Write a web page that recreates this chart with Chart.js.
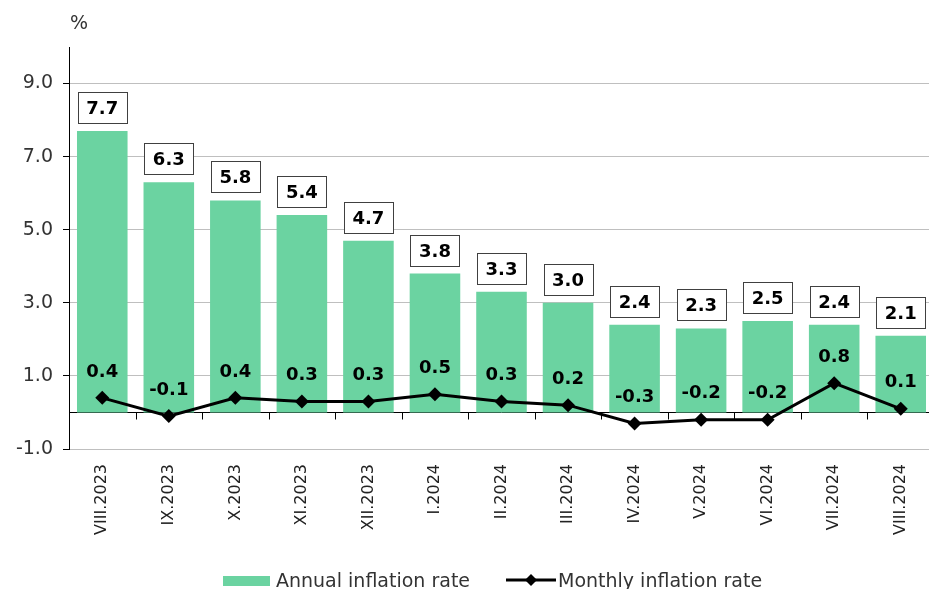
<!DOCTYPE html>
<html>
<head>
<meta charset="utf-8">
<script src="https://cdn.jsdelivr.net/npm/chart.js@4"></script>
<style>
  html, body { margin: 0; padding: 0; background: #fff; overflow: hidden; }
  #wrap { width: 941px; height: 589px; }
</style>
</head>
<body>
<div id="wrap"><canvas id="chart"></canvas></div>
<script>
// ── Data ─────────────────────────────────────────────────
const categories = [
  "VIII.2023", "IX.2023", "X.2023", "XI.2023", "XII.2023", "I.2024", "II.2024",
  "III.2024", "IV.2024", "V.2024", "VI.2024", "VII.2024", "VIII.2024",
];
const annualRate = [7.7, 6.3, 5.8, 5.4, 4.7, 3.8, 3.3, 3.0, 2.4, 2.3, 2.5, 2.4, 2.1];
const monthlyRate = [0.4, -0.1, 0.4, 0.3, 0.3, 0.5, 0.3, 0.2, -0.3, -0.2, -0.2, 0.8, 0.1];
const yTicks = [-1, 1, 3, 5, 7, 9];
const seriesNames = ["Annual inflation rate", "Monthly inflation rate"];

// ── Style ────────────────────────────────────────────────
const BAR_COLOR = "#6bd3a1";
const SANS = "'DejaVu Sans', Verdana, sans-serif";

// ── Plugins ──────────────────────────────────────────────
const extras = {
  id: "extras",
  beforeDatasetsDraw(chart) {
    const { ctx, chartArea, scales } = chart;
    const y0 = Math.round(scales.y.getPixelForValue(0)) + 0.5;
    ctx.save();
    ctx.strokeStyle = "#000";
    ctx.lineWidth = 1;
    ctx.beginPath();
    ctx.moveTo(chartArea.left, y0);
    ctx.lineTo(chartArea.right, y0);
    // category boundary ticks below the zero line
    const w = (chartArea.right - chartArea.left) / categories.length;
    for (let i = 1; i <= categories.length; i++) {
      const x = Math.round(chartArea.left + w * i) + 0.5;
      ctx.moveTo(x, y0);
      ctx.lineTo(x, y0 + 7);
    }
    ctx.stroke();
    ctx.restore();
  },
  afterDatasetsDraw(chart) {
    const { ctx } = chart;
    ctx.save();
    ctx.font = `bold 18px ${SANS}`;
    ctx.textAlign = "center";
    ctx.textBaseline = "middle";

    // boxed labels on the bars
    chart.getDatasetMeta(0).data.forEach((bar, i) => {
      const txt = annualRate[i].toFixed(1);
      const bw = Math.round(ctx.measureText(txt).width) + 17;
      const bh = 31;
      const x = Math.round(bar.x - bw / 2) + 0.5;
      const y = Math.round(bar.y - 8 - bh) + 0.5;
      ctx.fillStyle = "#fff";
      ctx.fillRect(x, y, bw, bh);
      ctx.strokeStyle = "#404040";
      ctx.lineWidth = 1;
      ctx.strokeRect(x, y, bw, bh);
      ctx.fillStyle = "#000";
      ctx.fillText(txt, bar.x, y + bh / 2 + 1);
    });

    // plain labels above the line points
    chart.getDatasetMeta(1).data.forEach((pt, i) => {
      ctx.fillStyle = "#000";
      ctx.fillText(monthlyRate[i].toFixed(1), pt.x, pt.y - 26);
    });

    // axis unit
    ctx.font = `19px ${SANS}`;
    ctx.textAlign = "left";
    ctx.textBaseline = "alphabetic";
    ctx.fillStyle = "#333";
    ctx.fillText("%", 70, 29);

    // legend
    const ly = 580;
    ctx.fillStyle = BAR_COLOR;
    ctx.fillRect(223, ly - 4, 47, 10);
    ctx.fillStyle = "#333";
    ctx.fillText(seriesNames[0], 276, 587);

    ctx.strokeStyle = "#000";
    ctx.lineWidth = 3;
    ctx.beginPath();
    ctx.moveTo(506, ly);
    ctx.lineTo(556, ly);
    ctx.stroke();
    ctx.fillStyle = "#000";
    ctx.beginPath();
    ctx.moveTo(531, ly - 6);
    ctx.lineTo(537, ly);
    ctx.lineTo(531, ly + 6);
    ctx.lineTo(525, ly);
    ctx.closePath();
    ctx.fill();
    ctx.fillStyle = "#333";
    ctx.fillText(seriesNames[1], 558, 587);
    ctx.restore();
  },
};

// ── Chart ────────────────────────────────────────────────
new Chart(document.getElementById("chart"), {
  type: "bar",
  data: {
    labels: categories,
    datasets: [
      {
        label: seriesNames[0],
        data: annualRate,
        backgroundColor: BAR_COLOR,
        barPercentage: 0.76,
        categoryPercentage: 1,
        order: 2,
      },
      {
        type: "line",
        label: seriesNames[1],
        data: monthlyRate,
        borderColor: "#000",
        borderWidth: 3,
        pointStyle: "rectRot",
        pointRadius: 7,
        pointBackgroundColor: "#000",
        pointBorderColor: "#000",
        pointBorderWidth: 0,
        tension: 0,
        order: 1,
      },
    ],
  },
  options: {
    responsive: true,
    maintainAspectRatio: false,
    animation: false,
    layout: { padding: { top: 47, right: 0, bottom: 0, left: 0 } },
    plugins: {
      legend: { display: false },
      tooltip: { enabled: false },
    },
    scales: {
      x: {
        grid: { display: false },
        border: { display: false },
        ticks: {
          autoSkip: false,
          minRotation: 90,
          maxRotation: 90,
          padding: 7,
          color: "#222",
          font: { family: SANS, size: 16 },
        },
        afterFit: (scale) => { scale.height = 140; },
      },
      y: {
        min: -1,
        max: 10,
        afterBuildTicks: (scale) => {
          scale.ticks = yTicks.map((v) => ({ value: v }));
        },
        grid: {
          color: "#bfbfbf",
          lineWidth: 1,
          tickColor: "#000",
          tickLength: 6,
        },
        border: { display: true, color: "#000", width: 1 },
        ticks: {
          padding: 10,
          color: "#333",
          font: { family: SANS, size: 19 },
          callback: (v) => Number(v).toFixed(1),
        },
        afterFit: (scale) => { scale.width = 69; },
      },
    },
  },
  plugins: [extras],
});
</script>
</body>
</html>
